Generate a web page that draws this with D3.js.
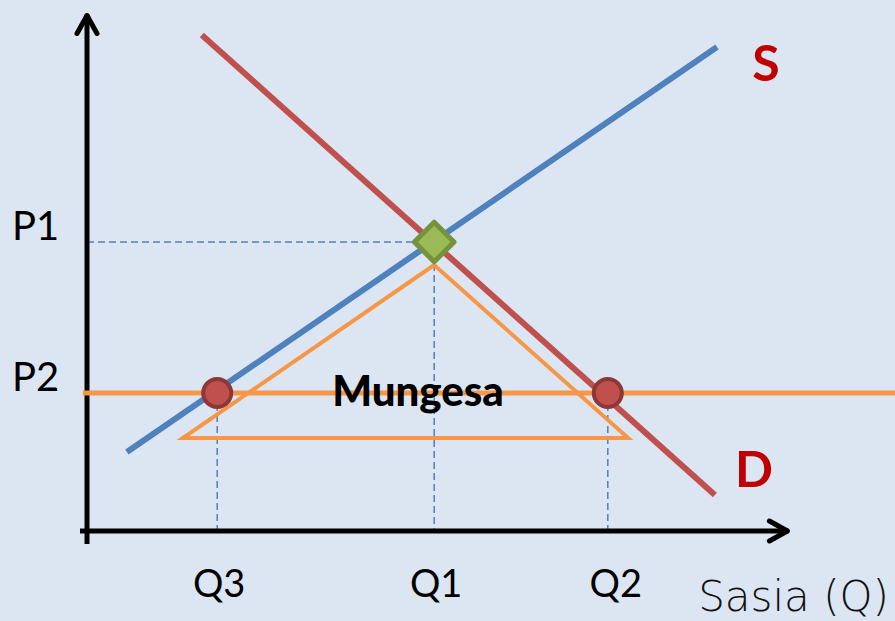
<!DOCTYPE html>
<html>
<head>
<meta charset="utf-8">
<script src="https://cdn.jsdelivr.net/npm/d3@7"></script>
<style>
  body { margin: 0; background: #dce6f2; }
  svg { display: block; }
</style>
</head>
<body>
<div id="chart"></div>
<script>
// supply / demand data (q, p in chart units)
const supply = [{q: 5.7, p: 15.8}, {q: 90, p: 96.8}];
const demand = [{q: 16.4, p: 99.2}, {q: 89.7, p: 7.2}];
const priceLevels = [{name: "P1", p: 57.8}, {name: "P2", p: 27.6}];
const quantities = [{name: "Q3", q: 18.6}, {name: "Q1", q: 49.6}, {name: "Q2", q: 74.4}];
const triangle = [{q: 49.6, p: 53.2}, {q: 13.7, p: 18.6}, {q: 77.3, p: 18.6}];
const priceFloor = [{q: -0.6, p: 27.6}, {q: 116, p: 27.6}];

const width = 895, height = 621;

const x = d3.scaleLinear().domain([0, 100]).range([87, 787]);
const y = d3.scaleLinear().domain([0, 100]).range([531, 31]);

const svg = d3.select("#chart").append("svg")
    .attr("width", width)
    .attr("height", height);

svg.append("rect").attr("width", width).attr("height", height).attr("fill", "#dce6f2");

const line = d3.line().x(d => x(d.q)).y(d => y(d.p));

// dashed guides
const p1 = priceLevels[0].p, p2 = priceLevels[1].p;
const q1 = quantities[1].q;
const guides = [
    [{q: 0, p: p1}, {q: q1, p: p1}],
    [{q: q1, p: p1}, {q: q1, p: 0}],
    [{q: quantities[0].q, p: p2}, {q: quantities[0].q, p: 0}],
    [{q: quantities[2].q, p: p2}, {q: quantities[2].q, p: 0}]
];
svg.selectAll(".guide")
    .data(guides)
    .enter()
    .append("path")
    .attr("class", "guide")
    .attr("d", line)
    .attr("fill", "none")
    .attr("stroke", "#4f81bd")
    .attr("stroke-width", 1.5)
    .attr("stroke-dasharray", "7,4");

// axes
const axisG = svg.append("g").attr("stroke", "#000").attr("stroke-width", 5).attr("fill", "none");
axisG.append("line").attr("x1", x(0)).attr("y1", y(-2.6)).attr("x2", x(0)).attr("y2", y(103.3));
axisG.append("line").attr("x1", x(-1)).attr("y1", y(0)).attr("x2", x(100.2)).attr("y2", y(0));
// arrow heads
axisG.append("path")
    .attr("stroke-linecap", "round").attr("stroke-linejoin", "round")
    .attr("d", `M${x(0) - 10},${y(103.3) + 19} L${x(0)},${y(103.3) + 1} L${x(0) + 10},${y(103.3) + 19}`);
axisG.append("path")
    .attr("stroke-linecap", "round").attr("stroke-linejoin", "round")
    .attr("d", `M${x(100.2) - 19},${y(0) - 10} L${x(100.2) - 1},${y(0)} L${x(100.2) - 19},${y(0) + 10}`);

// triangle (Mungesa)
svg.append("path")
    .attr("d", line(triangle) + "Z")
    .attr("fill", "none")
    .attr("stroke", "#f79646")
    .attr("stroke-width", 4);

// price floor line
svg.append("path")
    .attr("d", line(priceFloor))
    .attr("stroke", "#f79646")
    .attr("stroke-width", 5);

// supply and demand
svg.append("path").attr("d", line(supply)).attr("stroke", "#4f81bd").attr("stroke-width", 6);
svg.append("path").attr("d", line(demand)).attr("stroke", "#c0504d").attr("stroke-width", 6);

// equilibrium diamond
svg.append("path")
    .attr("transform", `translate(${x(q1)},${y(p1)}) rotate(45)`)
    .attr("d", "M-14,-14 H14 V14 H-14 Z")
    .attr("fill", "#9bbb59")
    .attr("stroke", "#76923c")
    .attr("stroke-width", 5)
    .attr("stroke-linejoin", "round");

// points at P2
svg.selectAll(".pt")
    .data([quantities[0], quantities[2]])
    .enter()
    .append("circle")
    .attr("class", "pt")
    .attr("cx", d => x(d.q))
    .attr("cy", y(p2))
    .attr("r", 14)
    .attr("fill", "#c0504d")
    .attr("stroke", "#8c3836")
    .attr("stroke-width", 4);

// labels
const font = "Lato, 'Open Sans', sans-serif";
svg.selectAll(".plabel")
    .data(priceLevels)
    .enter()
    .append("text")
    .attr("x", 12)
    .attr("y", d => y(d.p) - 2)
    .attr("font-family", font)
    .attr("font-size", 40)
    .attr("fill", "#000")
    .text(d => d.name);

svg.selectAll(".qlabel")
    .data(quantities)
    .enter()
    .append("text")
    .attr("x", (d, i) => x(d.q) + (i === 2 ? 8 : 2))
    .attr("y", 597)
    .attr("text-anchor", "middle")
    .attr("font-family", font)
    .attr("font-size", 38)
    .attr("fill", "#000")
    .text(d => d.name);

svg.append("text")
    .attr("x", 889).attr("y", 611)
    .attr("text-anchor", "end")
    .attr("font-family", "'DejaVu Sans', sans-serif")
    .attr("font-weight", 300)
    .attr("font-size", 42)
    .attr("fill", "#111")
    .text("Sasia (Q)");

svg.append("text")
    .attr("x", 418).attr("y", 406)
    .attr("text-anchor", "middle")
    .attr("font-family", font)
    .attr("font-weight", 900)
    .attr("font-size", 42)
    .attr("fill", "#000")
    .text("Mungesa");

svg.append("text")
    .attr("x", 766).attr("y", 81)
    .attr("text-anchor", "middle")
    .attr("font-family", font)
    .attr("font-weight", "bold")
    .attr("font-size", 50)
    .attr("fill", "#c00000")
    .text("S");

svg.append("text")
    .attr("x", 754).attr("y", 487)
    .attr("text-anchor", "middle")
    .attr("font-family", font)
    .attr("font-weight", "bold")
    .attr("font-size", 50)
    .attr("fill", "#c00000")
    .text("D");
</script>
</body>
</html>
